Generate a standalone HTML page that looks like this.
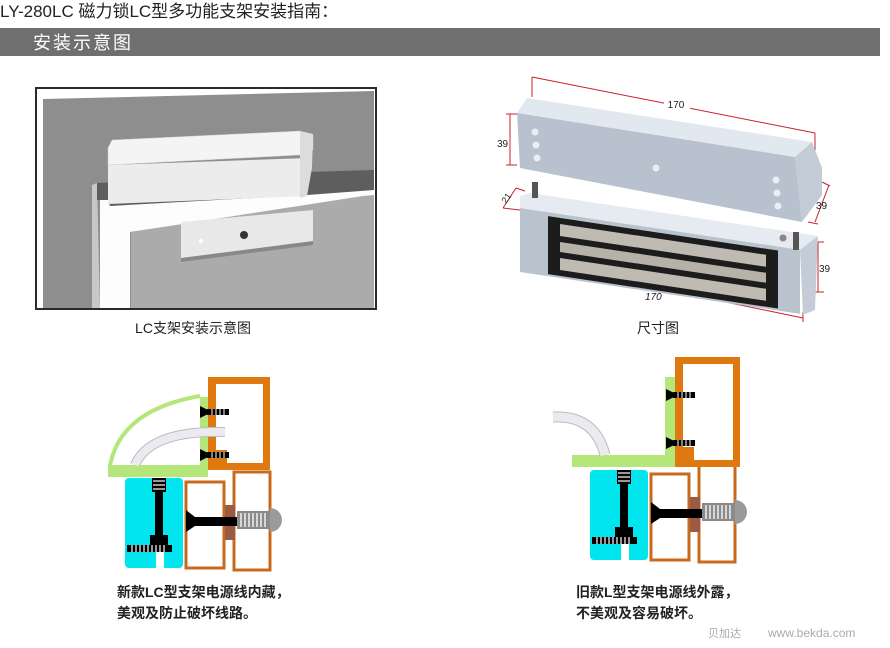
<!DOCTYPE html>
<html><head><meta charset="utf-8"><style>
body{margin:0;background:#fff;width:890px;height:648px;overflow:hidden}
svg{display:block}
text{font-family:"Liberation Sans","Noto Sans CJK SC",sans-serif}
</style></head><body>
<svg width="890" height="648" viewBox="0 0 890 648" xmlns="http://www.w3.org/2000/svg">
<text x="0" y="17" font-size="17" fill="#222">LY-280LC 磁力锁LC型多功能支架安装指南：</text>
<rect x="0" y="28" width="880" height="28" fill="#6f6f6f"/>
<text x="33" y="49" font-size="18" fill="#fff" letter-spacing="2">安装示意图</text>

<!-- photo -->
<rect x="36" y="88" width="340" height="221" fill="#fff" stroke="#2a2a2a" stroke-width="2"/>
<polygon points="43,99 374,91 374,308 43,308" fill="#8e8e8e"/>
<polygon points="92,185 97,183 100,308 92,308" fill="#c8c8c8"/>
<polygon points="97,190 374,186 374,196 130,232 130,308 100,308 100,200 97,200" fill="#fdfdfd"/>
<polygon points="97,183 307,172 374,170 374,190 307,195 110,206 108,200 97,200" fill="#5e5e5e"/>
<polygon points="131,232 363,196 374,195 374,308 131,308" fill="#ababab"/>
<polygon points="108,165 307,158 307,196 108,204" fill="#ececec"/>
<polygon points="108,148 112,140 300,131 313,136 313,150 300,155 108,165" fill="#f4f4f4" stroke="#ccc" stroke-width="0.5"/>
<polygon points="300,131 313,134 312,168 307,196 300,198 300,155" fill="#dcdcdc"/>
<polygon points="181,222 313,210 313,243 181,260" fill="#e8e8e8"/>
<polygon points="181,258 313,241 313,245 181,262" fill="#888"/>
<circle cx="244" cy="235" r="4" fill="#333"/>
<circle cx="201" cy="241" r="2" fill="#fff"/>
<text x="193" y="333" font-size="14" fill="#222" text-anchor="middle">LC支架安装示意图</text>

<!-- dimension drawing -->
<g stroke="#c8202c" stroke-width="1" fill="none">
<line x1="532" y1="77" x2="815" y2="133"/><line x1="532" y1="77" x2="532" y2="97"/><line x1="815" y1="133" x2="815" y2="152"/>
<line x1="510" y1="114" x2="510" y2="165"/><line x1="506" y1="114" x2="517" y2="114"/><line x1="506" y1="165" x2="517" y2="165"/>
<line x1="829" y1="185" x2="815" y2="222"/><line x1="822" y1="182" x2="830" y2="186"/><line x1="808" y1="222" x2="818" y2="224"/>
<line x1="516" y1="188" x2="503" y2="208"/><line x1="503" y1="208" x2="520" y2="210"/><line x1="516" y1="188" x2="525" y2="191"/>
<line x1="818" y1="242" x2="818" y2="292"/><line x1="812" y1="242" x2="824" y2="242"/><line x1="812" y1="292" x2="824" y2="292"/>
<line x1="522" y1="260" x2="803" y2="318"/><line x1="522" y1="258" x2="522" y2="266"/><line x1="803" y1="312" x2="803" y2="322"/>
</g>
<rect x="664" y="96" width="26" height="14" fill="#fff"/>
<text x="676" y="108" font-size="10" fill="#222" text-anchor="middle">170</text>
<text x="497" y="147" font-size="10" fill="#222">39</text>
<text x="816" y="209" font-size="10" fill="#222">39</text>
<text x="819" y="272" font-size="10" fill="#222">39</text>
<text x="506" y="204" font-size="9" fill="#222" transform="rotate(-55 506 204)">21</text>
<text x="645" y="300" font-size="10" fill="#222" font-style="italic">170</text>
<polygon points="517,113 527,98 812,142 822,168 795,157" fill="#e2e8ef"/>
<polygon points="795,157 812,142 822,168 822,195 802,222" fill="#c3ccd6"/>
<polygon points="517,113 795,157 802,222 520,168" fill="#b7c2ce"/>
<g fill="#e8eef4"><circle cx="535" cy="132" r="3.5"/><circle cx="536" cy="145" r="3.5"/><circle cx="537" cy="158" r="3.5"/><circle cx="656" cy="168" r="3.5"/><circle cx="776" cy="180" r="3.5"/><circle cx="777" cy="193" r="3.5"/><circle cx="778" cy="206" r="3.5"/></g>
<polygon points="520,196 530,193 818,236 800,250 520,208" fill="#e6ebf1"/>
<polygon points="800,250 818,236 815,310 803,315" fill="#c4cdd7"/>
<g transform="translate(520,208) skewY(8.5)">
<rect x="0" y="0" width="280" height="64" fill="#b9c3ce"/>
<rect x="28" y="4" width="230" height="58" fill="#1c1c1c"/>
<rect x="40" y="10" width="206" height="12" fill="#bfbab2"/>
<rect x="40" y="28" width="206" height="10" fill="#b6b1a9"/>
<rect x="40" y="44" width="206" height="12" fill="#bfbab2"/>
</g>
<rect x="532" y="182" width="6" height="16" fill="#555"/>
<rect x="793" y="232" width="6" height="18" fill="#555"/>
<circle cx="783" cy="238" r="3.5" fill="#888"/>
<text x="658" y="333" font-size="14" fill="#222" text-anchor="middle">尺寸图</text>

<defs>
<g id="bot">
<rect x="125" y="478" width="58" height="90" rx="4" fill="#00e5ee"/>
<rect x="155" y="478" width="8" height="60" fill="#000"/>
<rect x="152" y="478" width="14" height="14" fill="#000"/>
<g stroke="#fff" stroke-width="1.2"><line x1="153" y1="481" x2="165" y2="481"/><line x1="153" y1="485" x2="165" y2="485"/><line x1="153" y1="489" x2="165" y2="489"/></g>
<rect x="150" y="535" width="18" height="10" fill="#000"/>
<rect x="127" y="545" width="45" height="7" fill="#000"/>
<g stroke="#fff" stroke-width="1.2"><line x1="132" y1="545" x2="132" y2="552"/><line x1="136" y1="545" x2="136" y2="552"/><line x1="140" y1="545" x2="140" y2="552"/><line x1="144" y1="545" x2="144" y2="552"/><line x1="148" y1="545" x2="148" y2="552"/><line x1="152" y1="545" x2="152" y2="552"/><line x1="156" y1="545" x2="156" y2="552"/><line x1="160" y1="545" x2="160" y2="552"/><line x1="164" y1="545" x2="164" y2="552"/></g>
<rect x="156" y="552" width="8" height="16" fill="#fff"/>
<rect x="186" y="482" width="38" height="86" fill="#fff" stroke="#c86a1e" stroke-width="3"/>
<rect x="234" y="472" width="36" height="98" fill="#fff" stroke="#c86a1e" stroke-width="3"/>
<rect x="225" y="505" width="10" height="35" fill="#9a5a44"/>
<path d="M186,510 L195,517 L238,517 L238,526 L195,526 L186,532 Z" fill="#000"/>
<path d="M270,508 A12,12 0 0 1 270,532 Z" fill="#9a9a9a"/>
<rect x="237" y="511" width="33" height="18" fill="#8a8a8a"/>
<g stroke="#fff" stroke-width="1.3"><line x1="241" y1="513" x2="241" y2="527"/><line x1="245" y1="513" x2="245" y2="527"/><line x1="249" y1="513" x2="249" y2="527"/><line x1="253" y1="513" x2="253" y2="527"/><line x1="257" y1="513" x2="257" y2="527"/><line x1="261" y1="513" x2="261" y2="527"/><line x1="265" y1="513" x2="265" y2="527"/></g>
</g>
<g id="scr"><path d="M200,406 L208,410 L208,414 L200,418 Z" fill="#000"/><rect x="207" y="409" width="22" height="6" fill="#000"/><g stroke="#fff" stroke-width="1"><line x1="212" y1="409" x2="212" y2="415"/><line x1="216" y1="409" x2="216" y2="415"/><line x1="220" y1="409" x2="220" y2="415"/><line x1="224" y1="409" x2="224" y2="415"/></g></g>
</defs>
<use href="#bot"/>
<use href="#bot" transform="translate(465,-8)"/>
<!-- left top -->
<rect x="208" y="377" width="62" height="93" fill="#e07810"/>
<rect x="216" y="384" width="47" height="79" fill="#fff"/>
<rect x="216" y="450" width="11" height="13" fill="#e07810"/>
<rect x="200" y="397" width="8" height="73" fill="#b5e67a"/>
<use href="#scr"/>
<use href="#scr" transform="translate(0,43)"/>
<path d="M110,466 Q120,410 200,396" fill="none" stroke="#b5e67a" stroke-width="4"/>
<rect x="108" y="465" width="100" height="12" fill="#b5e67a"/>
<path d="M135,465 Q150,430 225,432" fill="none" stroke="#bbb" stroke-width="10"/>
<path d="M135,465 Q150,430 225,432" fill="none" stroke="#eceaf0" stroke-width="8"/>
<!-- right top -->
<rect x="675" y="357" width="65" height="110" fill="#e07810"/>
<rect x="683" y="364" width="50" height="96" fill="#fff"/>
<rect x="683" y="447" width="11" height="13" fill="#e07810"/>
<rect x="665" y="377" width="10" height="90" fill="#b5e67a"/>
<use href="#scr" transform="translate(466,-17)"/>
<use href="#scr" transform="translate(466,31)"/>
<rect x="572" y="455" width="103" height="12" fill="#b5e67a"/>
<path d="M553,417 Q595,415 605,455" fill="none" stroke="#bbb" stroke-width="11"/>
<path d="M553,417 Q595,415 605,455" fill="none" stroke="#eceaf0" stroke-width="9"/>

<text x="117" y="597" font-size="14" fill="#222" font-weight="bold">新款LC型支架电源线内藏，</text>
<text x="117" y="618" font-size="14" fill="#222" font-weight="bold">美观及防止破坏线路。</text>
<text x="576" y="597" font-size="14" fill="#222" font-weight="bold">旧款L型支架电源线外露，</text>
<text x="576" y="618" font-size="14" fill="#222" font-weight="bold">不美观及容易破坏。</text>
<text x="708" y="637" font-size="11" fill="#aaa">贝加达</text>
<text x="768" y="637" font-size="12" fill="#aaa">www.bekda.com</text>
</svg>
</body></html>
